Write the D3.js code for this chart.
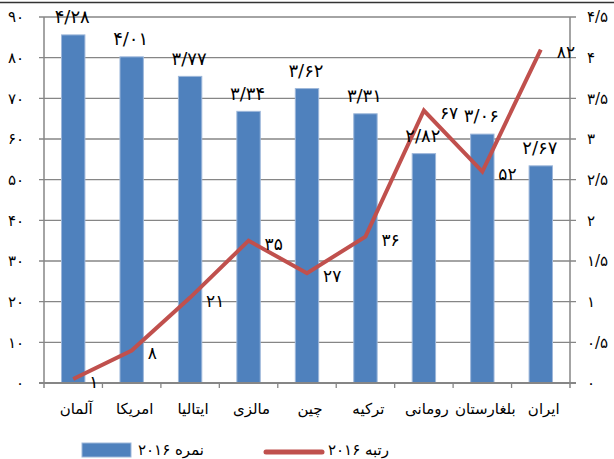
<!DOCTYPE html>
<html>
<head>
<meta charset="utf-8">
<script src="https://cdn.jsdelivr.net/npm/d3@7"></script>
<style>
  body { margin: 0; background: #fff; }
  svg { display: block; font-family: "DejaVu Sans", Tahoma, sans-serif; }
</style>
</head>
<body>
<script>
// data
var countries = ['آلمان', 'امریکا', 'ایتالیا', 'مالزی', 'چین', 'ترکیه', 'رومانی', 'بلغارستان', 'ایران'];
var scores = [4.28, 4.01, 3.77, 3.34, 3.62, 3.31, 2.82, 3.06, 2.67];   // نمره ۲۰۱۶ (right axis)
var ranks = [1, 8, 21, 35, 27, 36, 67, 52, 82];                      // رتبه ۲۰۱۶ (left axis)
var leftTicks = [0, 10, 20, 30, 40, 50, 60, 70, 80, 90];
var rightTicks = [0, 0.5, 1, 1.5, 2, 2.5, 3, 3.5, 4, 4.5];
var seriesNames = ['نمره ۲۰۱۶', 'رتبه ۲۰۱۶'];

// persian digits, "/" as decimal sign
function fa(v) {
  return String(v).replace('.', '/').replace(/[0-9]/g, function(c) { return '۰۱۲۳۴۵۶۷۸۹'[+c]; });
}
function fa2(v) { return fa(v.toFixed(2)); }

var width = 614, height = 459;
var margin = {top: 17, right: 44, bottom: 76, left: 44};
var plotW = width - margin.left - margin.right;
var plotH = height - margin.top - margin.bottom;

var gridColor = '#868686';
var blue = '#4F81BD';
var red = '#C0504D';

var svg = d3.select('body').append('svg')
  .attr('width', width)
  .attr('height', height);

// top border
svg.append('line')
  .attr('x1', 0).attr('x2', width)
  .attr('y1', 2.5).attr('y2', 2.5)
  .attr('stroke', '#333').attr('stroke-width', 1.5);

var g = svg.append('g')
  .attr('transform', 'translate(' + margin.left + ',' + margin.top + ')');

// scales
var x = d3.scaleBand().domain(countries).range([0, plotW]);
var yLeft = d3.scaleLinear().domain([0, 90]).range([plotH, 0]);
var yRight = d3.scaleLinear().domain([0, 4.5]).range([plotH, 0]);

// gridlines
g.append('g')
  .selectAll('line')
  .data(leftTicks)
  .enter().append('line')
  .attr('x1', -5).attr('x2', plotW + 6)
  .attr('y1', d => yLeft(d)).attr('y2', d => yLeft(d))
  .attr('stroke', gridColor).attr('stroke-width', 1.3);

// bars
var barW = x.bandwidth() * 0.4;
g.append('g')
  .selectAll('rect')
  .data(scores)
  .enter().append('rect')
  .attr('x', (d, i) => x(countries[i]) + (x.bandwidth() - barW) / 2)
  .attr('y', d => yRight(d))
  .attr('width', barW)
  .attr('height', d => plotH - yRight(d))
  .attr('fill', blue)
  .attr('stroke', '#9DB7DA')
  .attr('stroke-width', 1);

// axis lines
g.append('line')
  .attr('x1', 0).attr('x2', 0).attr('y1', 0).attr('y2', plotH + 5)
  .attr('stroke', gridColor).attr('stroke-width', 1.5);
g.append('line')
  .attr('x1', plotW).attr('x2', plotW).attr('y1', 0).attr('y2', plotH + 5)
  .attr('stroke', gridColor).attr('stroke-width', 1.5);
g.append('line')
  .attr('x1', -5).attr('x2', plotW + 6).attr('y1', plotH).attr('y2', plotH)
  .attr('stroke', gridColor).attr('stroke-width', 1.8);

// category ticks
g.append('g')
  .selectAll('line')
  .data(countries.slice(1))
  .enter().append('line')
  .attr('x1', d => x(d)).attr('x2', d => x(d))
  .attr('y1', plotH).attr('y2', plotH + 5)
  .attr('stroke', gridColor).attr('stroke-width', 1.3);

// left tick labels
g.append('g')
  .selectAll('text')
  .data(leftTicks)
  .enter().append('text')
  .attr('x', -20)
  .attr('y', d => yLeft(d))
  .attr('dy', '0.35em')
  .attr('text-anchor', 'end')
  .attr('font-size', 15)
  .attr('fill', '#000')
  .text(d => fa(d));

// right tick labels
g.append('g')
  .selectAll('text')
  .data(rightTicks)
  .enter().append('text')
  .attr('x', plotW + 17)
  .attr('y', d => yRight(d))
  .attr('dy', '0.35em')
  .attr('text-anchor', 'start')
  .attr('font-size', 15)
  .attr('fill', '#000')
  .text(d => fa(d));

// category labels
g.append('g')
  .selectAll('text')
  .data(countries)
  .enter().append('text')
  .attr('x', d => x(d) + x.bandwidth() / 2 + 3)
  .attr('y', plotH + 26)
  .attr('dy', '0.35em')
  .attr('text-anchor', 'middle')
  .attr('font-size', 15)
  .attr('fill', '#000')
  .text(d => d);

// line
var line = d3.line()
  .x((d, i) => x(countries[i]) + x.bandwidth() / 2)
  .y(d => yLeft(d));

g.append('path')
  .datum(ranks)
  .attr('d', line)
  .attr('fill', 'none')
  .attr('stroke', red)
  .attr('stroke-width', 4)
  .attr('stroke-linejoin', 'miter');

// bar labels
g.append('g')
  .selectAll('text')
  .data(scores)
  .enter().append('text')
  .attr('x', (d, i) => x(countries[i]) + x.bandwidth() / 2 - 1)
  .attr('y', d => yRight(d) - 18)
  .attr('dy', '0.35em')
  .attr('text-anchor', 'middle')
  .attr('font-size', 18)
  .attr('fill', '#000')
  .text(d => fa2(d));

// rank labels
g.append('g')
  .selectAll('text')
  .data(ranks)
  .enter().append('text')
  .attr('x', (d, i) => x(countries[i]) + x.bandwidth() / 2 + 16)
  .attr('y', d => yLeft(d) + 3)
  .attr('dy', '0.35em')
  .attr('text-anchor', 'start')
  .attr('font-size', 17)
  .attr('fill', '#000')
  .text(d => fa(d));

// legend
var legend = svg.append('g');
legend.append('rect')
  .attr('x', 82).attr('y', 443)
  .attr('width', 49).attr('height', 14)
  .attr('fill', blue)
  .attr('stroke', '#9DB7DA');
legend.append('text')
  .attr('x', 138).attr('y', 450)
  .attr('dy', '0.35em')
  .attr('font-size', 15)
  .text(seriesNames[0]);
legend.append('line')
  .attr('x1', 266).attr('x2', 322)
  .attr('y1', 452).attr('y2', 452)
  .attr('stroke', red).attr('stroke-width', 5)
  .attr('stroke-linecap', 'round');
legend.append('text')
  .attr('x', 328).attr('y', 450)
  .attr('dy', '0.35em')
  .attr('font-size', 15)
  .text(seriesNames[1]);
</script>
</body>
</html>
